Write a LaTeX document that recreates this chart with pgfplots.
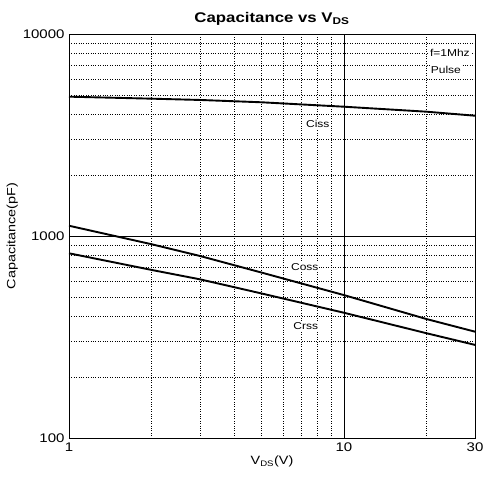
\documentclass[border=0pt]{standalone}
\usepackage{fontspec}
\setmainfont{Liberation Sans}[FakeStretch=1.2]
\usepackage{pgfplots}
\pgfplotsset{compat=1.18}
\begin{document}
\begin{tikzpicture}
\begin{loglogaxis}[
  name=ax,
  scale only axis, width=406pt, height=404pt,
  xmin=1, xmax=30, ymin=100, ymax=10000,
  xtick={1,10,30}, xticklabels={1,10,30},
  ytick={100,1000,10000}, yticklabels={100,1000,10000},
  minor xtick={2,3,4,5,6,7,8,9,20},
  minor ytick={200,300,400,500,600,700,800,900,2000,3000,4000,5000,6000,7000,8000,9000},
  grid=both,
  major grid style={black, line width=0.6pt},
  minor grid style={black, dotted, line width=0.5pt},
  major tick length=0pt, minor tick length=0pt,
  axis line style={black, line width=0.8pt},
  tick label style={font=\fontsize{12.5}{14}\selectfont},
  xticklabel style={yshift=-1pt},
  yticklabel style={xshift=-1pt},
  title={Capacitance vs V\textsubscript{DS}},
  title style={font=\bfseries\fontsize{14}{16}\selectfont, yshift=-1pt},
  xlabel={V\textsubscript{DS}(V)},
  ylabel={Capacitance(pF)},
  label style={font=\fontsize{12}{14}\selectfont},
  xlabel style={yshift=2pt},
  ylabel style={yshift=-2pt},
]
\addplot[black, line width=1.9pt] coordinates {
  (1,4894) (2,4784) (3,4714) (5,4592) (10,4366) (20,4124) (30,3940)};
\addplot[black, line width=1.9pt] coordinates {
  (1,1124) (2,910) (3,796) (5,660) (10,510) (20,388) (30,336)};
\addplot[black, line width=1.9pt] coordinates {
  (1,821) (2,679) (3,610) (5,520) (10,417) (20,330) (30,289)};
\node[fill=white, inner sep=1pt, font=\fontsize{10}{12}\selectfont] at (axis cs:8.04,3581) {Ciss};
\node[fill=white, inner sep=1pt, font=\fontsize{10}{12}\selectfont] at (axis cs:7.21,703) {Coss};
\node[fill=white, inner sep=1pt, font=\fontsize{10}{12}\selectfont] at (axis cs:7.27,358) {Crss};
\node[fill=white, inner sep=1pt, font=\fontsize{10}{12}\selectfont] at (axis cs:24.3,8050) {f=1Mhz};
\node[fill=white, inner sep=1pt, font=\fontsize{10}{12}\selectfont] at (axis cs:23.5,6637) {Pulse};
\end{loglogaxis}
\pgfresetboundingbox
\path[use as bounding box] ([shift={(-69pt,-41pt)}]ax.south west) rectangle ([shift={(10pt,34pt)}]ax.north east);
\end{tikzpicture}
\end{document}
